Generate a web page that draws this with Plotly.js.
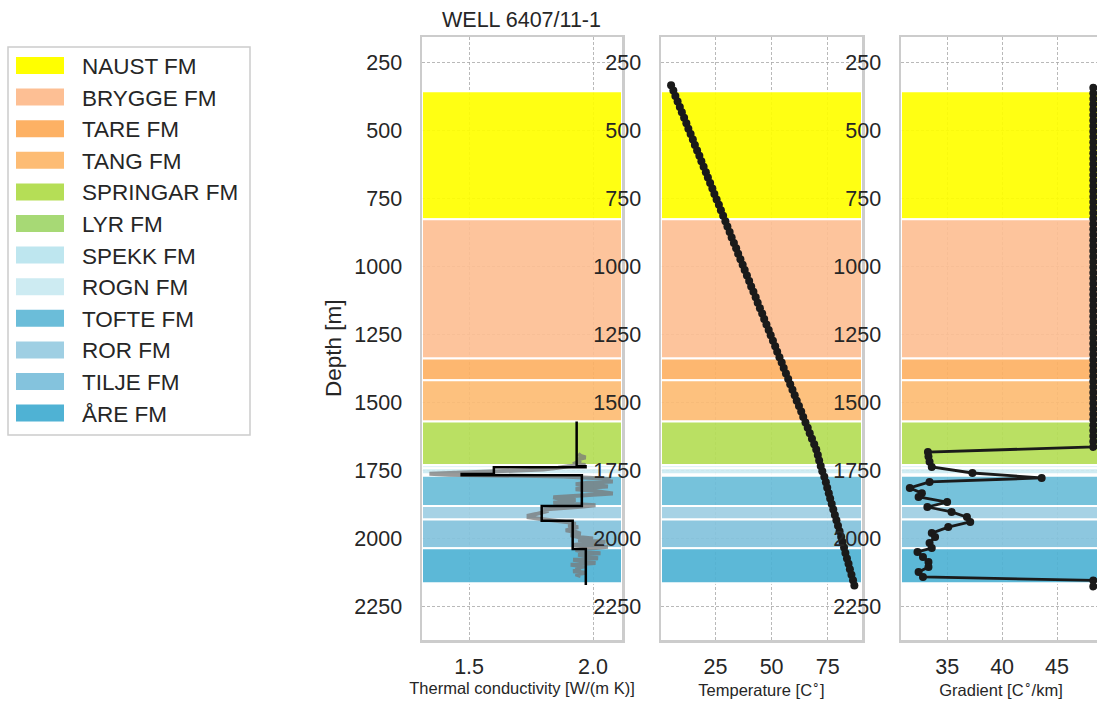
<!DOCTYPE html>
<html>
<head>
<meta charset="utf-8">
<script src="https://cdn.plot.ly/plotly-3.0.1.min.js"></script>
<style>
html,body{margin:0;padding:0;overflow:hidden;background:#fff;}
#chart{width:1101px;height:706px;}
</style>
</head>
<body>
<div id="chart"></div>
<script>
// ---------------- DATA ----------------
const wellName = 'WELL 6407/11-1';
const formations = ['NAUST FM','BRYGGE FM','TARE FM','TANG FM','SPRINGAR FM','LYR FM','SPEKK FM','ROGN FM','TOFTE FM','ROR FM','TILJE FM','ÅRE FM'];
const fmColors = ['#ffff00','#fdbf94','#fdb164','#fdbc74','#b5de56','#a7d975','#bee6ef','#cdebf2','#6bbdd9','#9fcfe3','#84c3dd','#4fb2d4'];
const fmTop  = [357, 828, 1340, 1420, 1572, 1732, 1733, 1744, 1771, 1882, 1932, 2038];
const fmBase = [828, 1340, 1420, 1572, 1732, 1733, 1744, 1766, 1882, 1932, 2038, 2166];

// thermal conductivity log (grey)
const kLogDepth = [1690,1698,1704,1710,1716,1722,1728,1732,1736,1742,1748,1752,1756,1760,1764,1767,1770,1774,1779,1784,1788,1792,1797,1802,1806,1811,1816,1821,1826,1831,1836,1841,1846,1850,1855,1860,1865,1870,1875,1880,1885,1890,1895,1900,1906,1912,1918,1924,1930,1936,1942,1948,1954,1960,1966,1972,1978,1984,1990,1996,2002,2008,2014,2020,2026,2032,2038,2044,2050,2056,2062,2068,2074,2080,2086,2092,2098,2104,2110,2116,2122,2128,2134,2140];
const kLogVal   = [1.94,1.95,1.97,1.94,1.95,1.93,1.92,1.97,1.90,1.86,1.80,1.70,1.55,1.40,1.34,1.42,1.65,1.88,2.00,2.07,2.03,2.08,1.98,1.93,2.02,2.06,1.96,1.93,2.00,2.05,2.08,2.00,1.90,1.84,1.86,1.93,1.88,1.84,1.92,2.01,1.95,1.86,1.80,1.82,1.80,1.77,1.74,1.74,1.79,1.86,1.90,1.93,1.90,1.94,1.92,1.89,1.93,1.95,1.91,1.94,2.00,1.94,2.05,1.97,1.92,2.06,1.98,1.93,1.96,2.03,1.94,1.99,2.02,1.92,1.96,2.01,1.91,1.97,1.93,1.95,1.92,1.97,1.93,1.95];

// formation-averaged thermal conductivity (black steps)
const kStepDepth = [1572, 1736, 1740, 1765, 1769, 1882, 1937, 2040, 2173];
const kStepVal   = [1.934, 1.97, 1.60, 1.47, 1.955, 1.793, 1.918, 1.971, 1.971];

// temperature
const tDepth = [335,355,375,395,415,435,455,475,495,515,
                535,555,575,595,615,635,655,675,695,715,
                735,755,775,795,815,835,855,875,895,915,
                935,955,975,995,1015,1035,1055,1075,1095,1115,
                1135,1155,1175,1195,1215,1235,1255,1275,1295,1315,
                1335,1355,1375,1395,1415,1435,1455,1475,1495,1515,
                1535,1555,1575,1595,1615,1635,1655,1675,1695,1715,
                1735,1755,1775,1795,1815,1835,1855,1875,1895,1915,
                1935,1955,1975,1995,2015,2035,2055,2075,2095,2115,
                2135,2155,2175];
const tVal = [5.2,6.2,7.1,8.1,9.1,10.0,11.0,12.0,12.9,13.9,
              14.9,15.8,16.8,17.8,18.7,19.7,20.7,21.6,22.6,23.6,
              24.5,25.5,26.5,27.4,28.4,29.4,30.3,31.3,32.2,33.2,
              34.2,35.1,36.1,37.1,38.0,39.0,40.0,40.9,41.9,42.9,
              43.8,44.8,45.8,46.7,47.7,48.7,49.6,50.6,51.6,52.5,
              53.5,54.5,55.4,56.4,57.4,58.3,59.3,60.3,61.2,62.2,
              63.2,64.1,65.1,66.1,67.0,68.0,69.0,69.9,70.6,71.2,
              71.9,72.6,73.5,74.2,74.8,75.5,76.1,76.8,77.5,78.2,
              78.9,79.6,80.3,81.0,81.6,82.3,82.9,83.6,84.3,84.9,
              85.6,86.3,86.9];

// gradient
const gDepth = [345,365,385,405,425,445,465,485,505,525,
                545,565,585,605,625,645,665,685,705,725,
                745,765,785,805,825,845,865,885,905,925,
                945,965,985,1005,1025,1045,1065,1085,1105,1125,
                1145,1165,1185,1205,1225,1245,1265,1285,1305,1325,
                1345,1365,1385,1405,1425,1445,1465,1485,1505,1525,
                1545,1565,1585,1605,1625,1645,1665,
                1684,1700,1720,1739,1761,1779,1794,1816,1835,1849,
                1868,1886,1904,1923,1941,1960,1982,1996,2018,2037,
                2051,2070,2088,2107,2125,2143,2156,2178];
const gVal = [48.3,48.3,48.3,48.3,48.3,48.3,48.3,48.3,48.3,48.3,
              48.3,48.3,48.3,48.3,48.3,48.3,48.3,48.3,48.3,48.3,
              48.3,48.3,48.3,48.3,48.3,48.3,48.3,48.3,48.3,48.3,
              48.3,48.3,48.3,48.3,48.3,48.3,48.3,48.3,48.3,48.3,
              48.3,48.3,48.3,48.3,48.3,48.3,48.3,48.3,48.3,48.3,
              48.3,48.3,48.3,48.3,48.3,48.3,48.3,48.3,48.3,48.3,
              48.3,48.3,48.3,48.3,48.3,48.3,48.3,
              33.25,33.3,33.4,33.6,37.3,43.6,33.4,31.6,32.7,32.4,
              35.0,33.2,35.4,36.8,37.1,35.1,33.6,33.9,33.4,33.6,
              32.3,32.8,33.3,33.3,32.4,32.8,48.3,48.3];

const depthTicks = [250,500,750,1000,1250,1500,1750,2000,2250];
const xTitles = ['Thermal conductivity [W/(m K)]','Temperature [C<sup>∘</sup>]','Gradient [C<sup>∘</sup>/km]'];
const xTickFormats = ['.1f','',''];

// ---------------- LAYOUT ----------------
const W = 1101, H = 706;
const px = x => x / W;
const py = y => 1 - y / H;
const FONT = 'Liberation Sans, Arial, sans-serif';
const TXT = '#262626';
const panelsPx = [[422,622],[661,862],[901,1101]];
const xRanges = [[1.31,2.117],[0.7,90.3],[30.8,49.0]];
const xDticks = [0.5,25,5];
const yDom = [py(640), py(37)];

const layout = {
  width: W, height: H,
  margin: {l:0,r:0,t:0,b:0},
  paper_bgcolor: '#fff', plot_bgcolor: 'rgba(0,0,0,0)',
  showlegend: false,
  font: {family: FONT, color: TXT},
  shapes: [], annotations: []
};

const traces = [];

for (let p = 0; p < 3; p++) {
  const sfx = p === 0 ? '' : String(p+1);
  layout['xaxis'+sfx] = {
    domain: [px(panelsPx[p][0]), px(panelsPx[p][1])],
    range: xRanges[p], autorange: false,
    anchor: 'y'+sfx, dtick: xDticks[p], tick0: 0, tickformat: xTickFormats[p],
    showgrid: true, gridcolor: '#a8a8a8', griddash: '3px,2px', gridwidth: 0.8,
    zeroline: false, showline: true, mirror: true, linecolor: '#cccccc', linewidth: 2.5,
    ticks: '', ticklabelstandoff: 6,
    tickfont: {size: 21.5, family: FONT, color: TXT},
    title: {text: xTitles[p], font: {size: 16.5, family: FONT, color: TXT}, standoff: 4}
  };
  layout['yaxis'+sfx] = {
    domain: yDom, range: [2375, 158], autorange: false,
    anchor: 'x'+sfx, tickvals: depthTicks,
    showgrid: true, gridcolor: '#a8a8a8', griddash: '3px,2px', gridwidth: 0.8,
    zeroline: false, showline: true, mirror: true, linecolor: '#cccccc', linewidth: 2.5,
    ticks: '', ticklabelstandoff: 13,
    tickfont: {size: 21.5, family: FONT, color: TXT}
  };
  // formation bands as filled traces (drawn above grid, below data)
  const r = xRanges[p];
  for (let i = 0; i < formations.length; i++) {
    traces.push({
      type: 'scatter', mode: 'lines', xaxis: 'x'+sfx, yaxis: 'y'+sfx,
      x: [r[0], r[1], r[1], r[0], r[0]],
      y: [fmTop[i], fmTop[i], fmBase[i], fmBase[i], fmTop[i]],
      fill: 'toself', fillcolor: fmColors[i], opacity: 0.92,
      line: {color: '#ffffff', width: 2}, hoverinfo: 'skip', cliponaxis: true
    });
  }
}

// legend (drawn)
layout.shapes.push({type:'rect', xref:'paper', yref:'paper', x0:px(8), x1:px(250), y0:py(435), y1:py(47),
  fillcolor:'#ffffff', line:{color:'#cccccc', width:1.5}, layer:'above'});
for (let i = 0; i < formations.length; i++) {
  const cy = 65.5 + i * 31.6;
  layout.shapes.push({type:'rect', xref:'paper', yref:'paper', x0:px(16), x1:px(64), y0:py(cy+8.5), y1:py(cy-8.5),
    fillcolor: fmColors[i], line:{width:0}, layer:'above'});
  layout.annotations.push({xref:'paper', yref:'paper', x:px(80), y:py(cy+1), xanchor:'left', yanchor:'middle',
    text: formations[i], showarrow:false, font:{size:22.5, family:FONT, color:TXT}});
}
layout.annotations.push({xref:'paper', yref:'paper', x:px(521), y:py(20), xanchor:'center', yanchor:'middle',
  text: wellName, showarrow:false, font:{size:21.5, family:FONT, color:TXT}});
layout.annotations.push({xref:'paper', yref:'paper', x:px(333), y:py(348), xanchor:'center', yanchor:'middle',
  text: 'Depth [m]', textangle:-90, showarrow:false, font:{size:22.5, family:FONT, color:TXT}});

// ---------------- DATA TRACES ----------------
traces.push(
  {x: kLogVal, y: kLogDepth, xaxis:'x', yaxis:'y', mode:'lines', type:'scatter',
   line:{color:'rgba(120,120,120,0.75)', width:4}, hoverinfo:'skip'},
  {x: kStepVal, y: kStepDepth, xaxis:'x', yaxis:'y', mode:'lines', type:'scatter',
   line:{color:'#000000', width:2.5, shape:'vh'}},
  {x: tVal, y: tDepth, xaxis:'x2', yaxis:'y2', mode:'lines+markers', type:'scatter',
   line:{color:'#1a1a1a', width:2.5}, marker:{color:'#1a1a1a', size:8}},
  {x: gVal, y: gDepth, xaxis:'x3', yaxis:'y3', mode:'lines+markers', type:'scatter',
   line:{color:'#1a1a1a', width:2.8}, marker:{color:'#1a1a1a', size:8}}
);

Plotly.newPlot('chart', traces, layout, {staticPlot:true, displayModeBar:false});
</script>
</body>
</html>
